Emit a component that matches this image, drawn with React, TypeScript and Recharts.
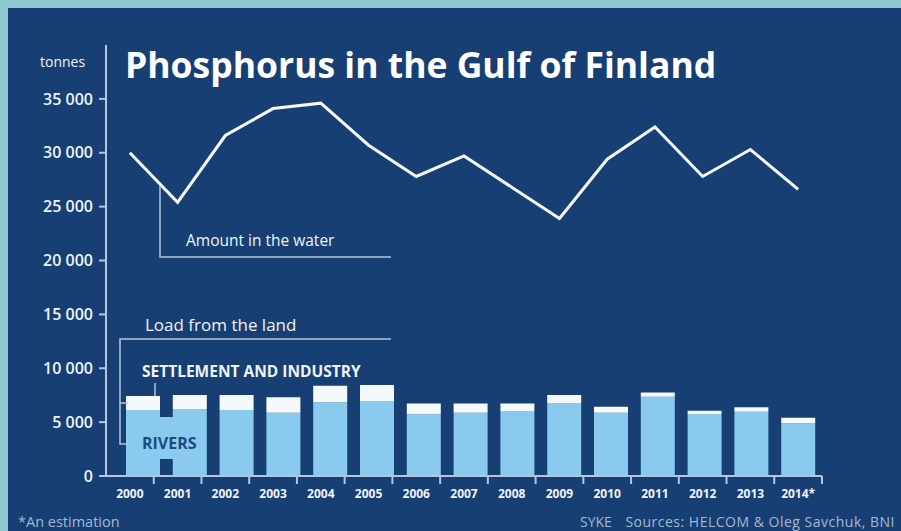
import React from 'react';
import {
    ComposedChart,
    Bar,
    Line,
    XAxis,
    YAxis
} from 'recharts';

// tonnes of phosphorus
const years = ['2000', '2001', '2002', '2003', '2004', '2005', '2006', '2007', '2008', '2009', '2010', '2011', '2012', '2013', '2014*'];
const inWater = [30000, 25400, 31600, 34100, 34600, 30700, 27800, 29700, 26800, 23900, 29400, 32400, 27800, 30300, 26600];
const rivers = [6120, 6210, 6120, 5870, 6840, 6960, 5720, 5870, 6030, 6740, 5870, 7360, 5750, 5960, 4890];
const settlement = [1300, 1300, 1390, 1430, 1540, 1480, 1020, 870, 710, 770, 560, 400, 310, 410, 520];
const yTicks = [0, 5000, 10000, 15000, 20000, 25000, 30000, 35000];

const data = years.map((year, i) => ({
    year,
    water: inWater[i],
    rivers: rivers[i],
    settlement: settlement[i]
}));

const NAVY = '#173f74';
const TEAL = '#8ecad0';
const RIVER = '#89caee';
const AXIS = '#b4c6dd';
const TEXT = '#eef3f8';
const MUTED = '#a3b8d3';
const FONT = '"Open Sans", sans-serif';

const fmt = (v: number) => (v === 0 ? '0' : `${Math.floor(v / 1000)} ${String(v % 1000).padStart(3, '0')}`);

const YearTick = (props: any) => {
    const { x, y, payload } = props;
    const half = payload && payload.offset ? payload.offset : 23.9;
    return (
        <g>
            <line x1={x + half} x2={x + half} y1={y} y2={y + 8} stroke={AXIS} strokeWidth={2} />
            <text x={x} y={y + 22} textAnchor="middle" fill={TEXT} fontSize={12} fontWeight={700} fontFamily={FONT}>
                {payload.value}
            </text>
        </g>
    );
};

// title, annotations and footer, laid over the chart
const Notes = () => (
    <svg width={893} height={523} style={{ position: 'absolute', left: 0, top: 0, pointerEvents: 'none' }}>
        <g fontFamily={FONT}>
            <text x={117} y={70} fill="#ffffff" fontSize={35.5} fontWeight={700}>Phosphorus in the Gulf of Finland</text>
            <text x={32} y={59} fill={TEXT} fontSize={14}>tonnes</text>

            {/* amount in the water */}
            <polyline points="152,178 152,249 383,249" fill="none" stroke={AXIS} strokeWidth={1.5} />
            <text x={178} y={238} fill={TEXT} fontSize={15.5}>Amount in the water</text>

            {/* load from the land */}
            <polyline points="120,395 112,395 112,331 383,331" fill="none" stroke={AXIS} strokeWidth={1.5} />
            <polyline points="112,395 112,436 120,436" fill="none" stroke={AXIS} strokeWidth={1.5} />
            <text x={137} y={323} fill={TEXT} fontSize={17}>Load from the land</text>
            <text x={134} y={369} fill={TEXT} fontSize={15.5} fontWeight={700}>SETTLEMENT AND INDUSTRY</text>
            <line x1={147} x2={147} y1={375} y2={388} stroke={AXIS} strokeWidth={1.5} />
            <rect x={150} y={409} width={25} height={42} fill={RIVER} />
            <text x={134} y={441} fill="#1d4a80" fontSize={16} fontWeight={700}>RIVERS</text>

            <text x={10} y={519} fill={MUTED} fontSize={14.5}>*An estimation</text>
            <text x={572} y={519} fill={MUTED} fontSize={14}>SYKE</text>
            <text x={887} y={519} fill={MUTED} fontSize={14} textAnchor="end" letterSpacing={0.5}>Sources: HELCOM &amp; Oleg Savchuk, BNI</text>
        </g>
    </svg>
);

export default function App() {
    return (
        <div style={{ position: 'absolute', left: 0, top: 0, width: 901, height: 531, background: TEAL }}>
            <div style={{ position: 'absolute', left: 8, top: 8, width: 893, height: 523, background: NAVY }}>
                <ComposedChart
                    width={893}
                    height={523}
                    data={data}
                    margin={{ top: 37, right: 79, bottom: 25, left: 0 }}
                >
                    <XAxis
                        xAxisId="main"
                        dataKey="year"
                        height={30}
                        stroke={AXIS}
                        strokeWidth={2}
                        tickLine={false}
                        tickSize={0}
                        tickMargin={0}
                        interval={0}
                        tick={<YearTick />}
                    />
                    <XAxis xAxisId="bars" dataKey="year" hide height={0} padding={{ left: 14, right: 0 }} />
                    <YAxis
                        domain={[0, 40000]}
                        ticks={yTicks}
                        width={98}
                        interval={0}
                        tickFormatter={fmt}
                        stroke={AXIS}
                        strokeWidth={2}
                        tickSize={7}
                        tickMargin={6}
                        tick={{ fill: TEXT, fontSize: 16, fontWeight: 600, fontFamily: FONT }}
                    />
                    <Bar xAxisId="bars" dataKey="rivers" stackId="load" fill={RIVER} barSize={34} isAnimationActive={false} />
                    <Bar xAxisId="bars" dataKey="settlement" stackId="load" fill="#f6f9fc" barSize={34} isAnimationActive={false} />
                    <Line
                        xAxisId="main"
                        dataKey="water"
                        type="linear"
                        stroke="#f7f9fb"
                        strokeWidth={3}
                        dot={false}
                        isAnimationActive={false}
                    />
                </ComposedChart>
                <Notes />
            </div>
        </div>
    );
}
